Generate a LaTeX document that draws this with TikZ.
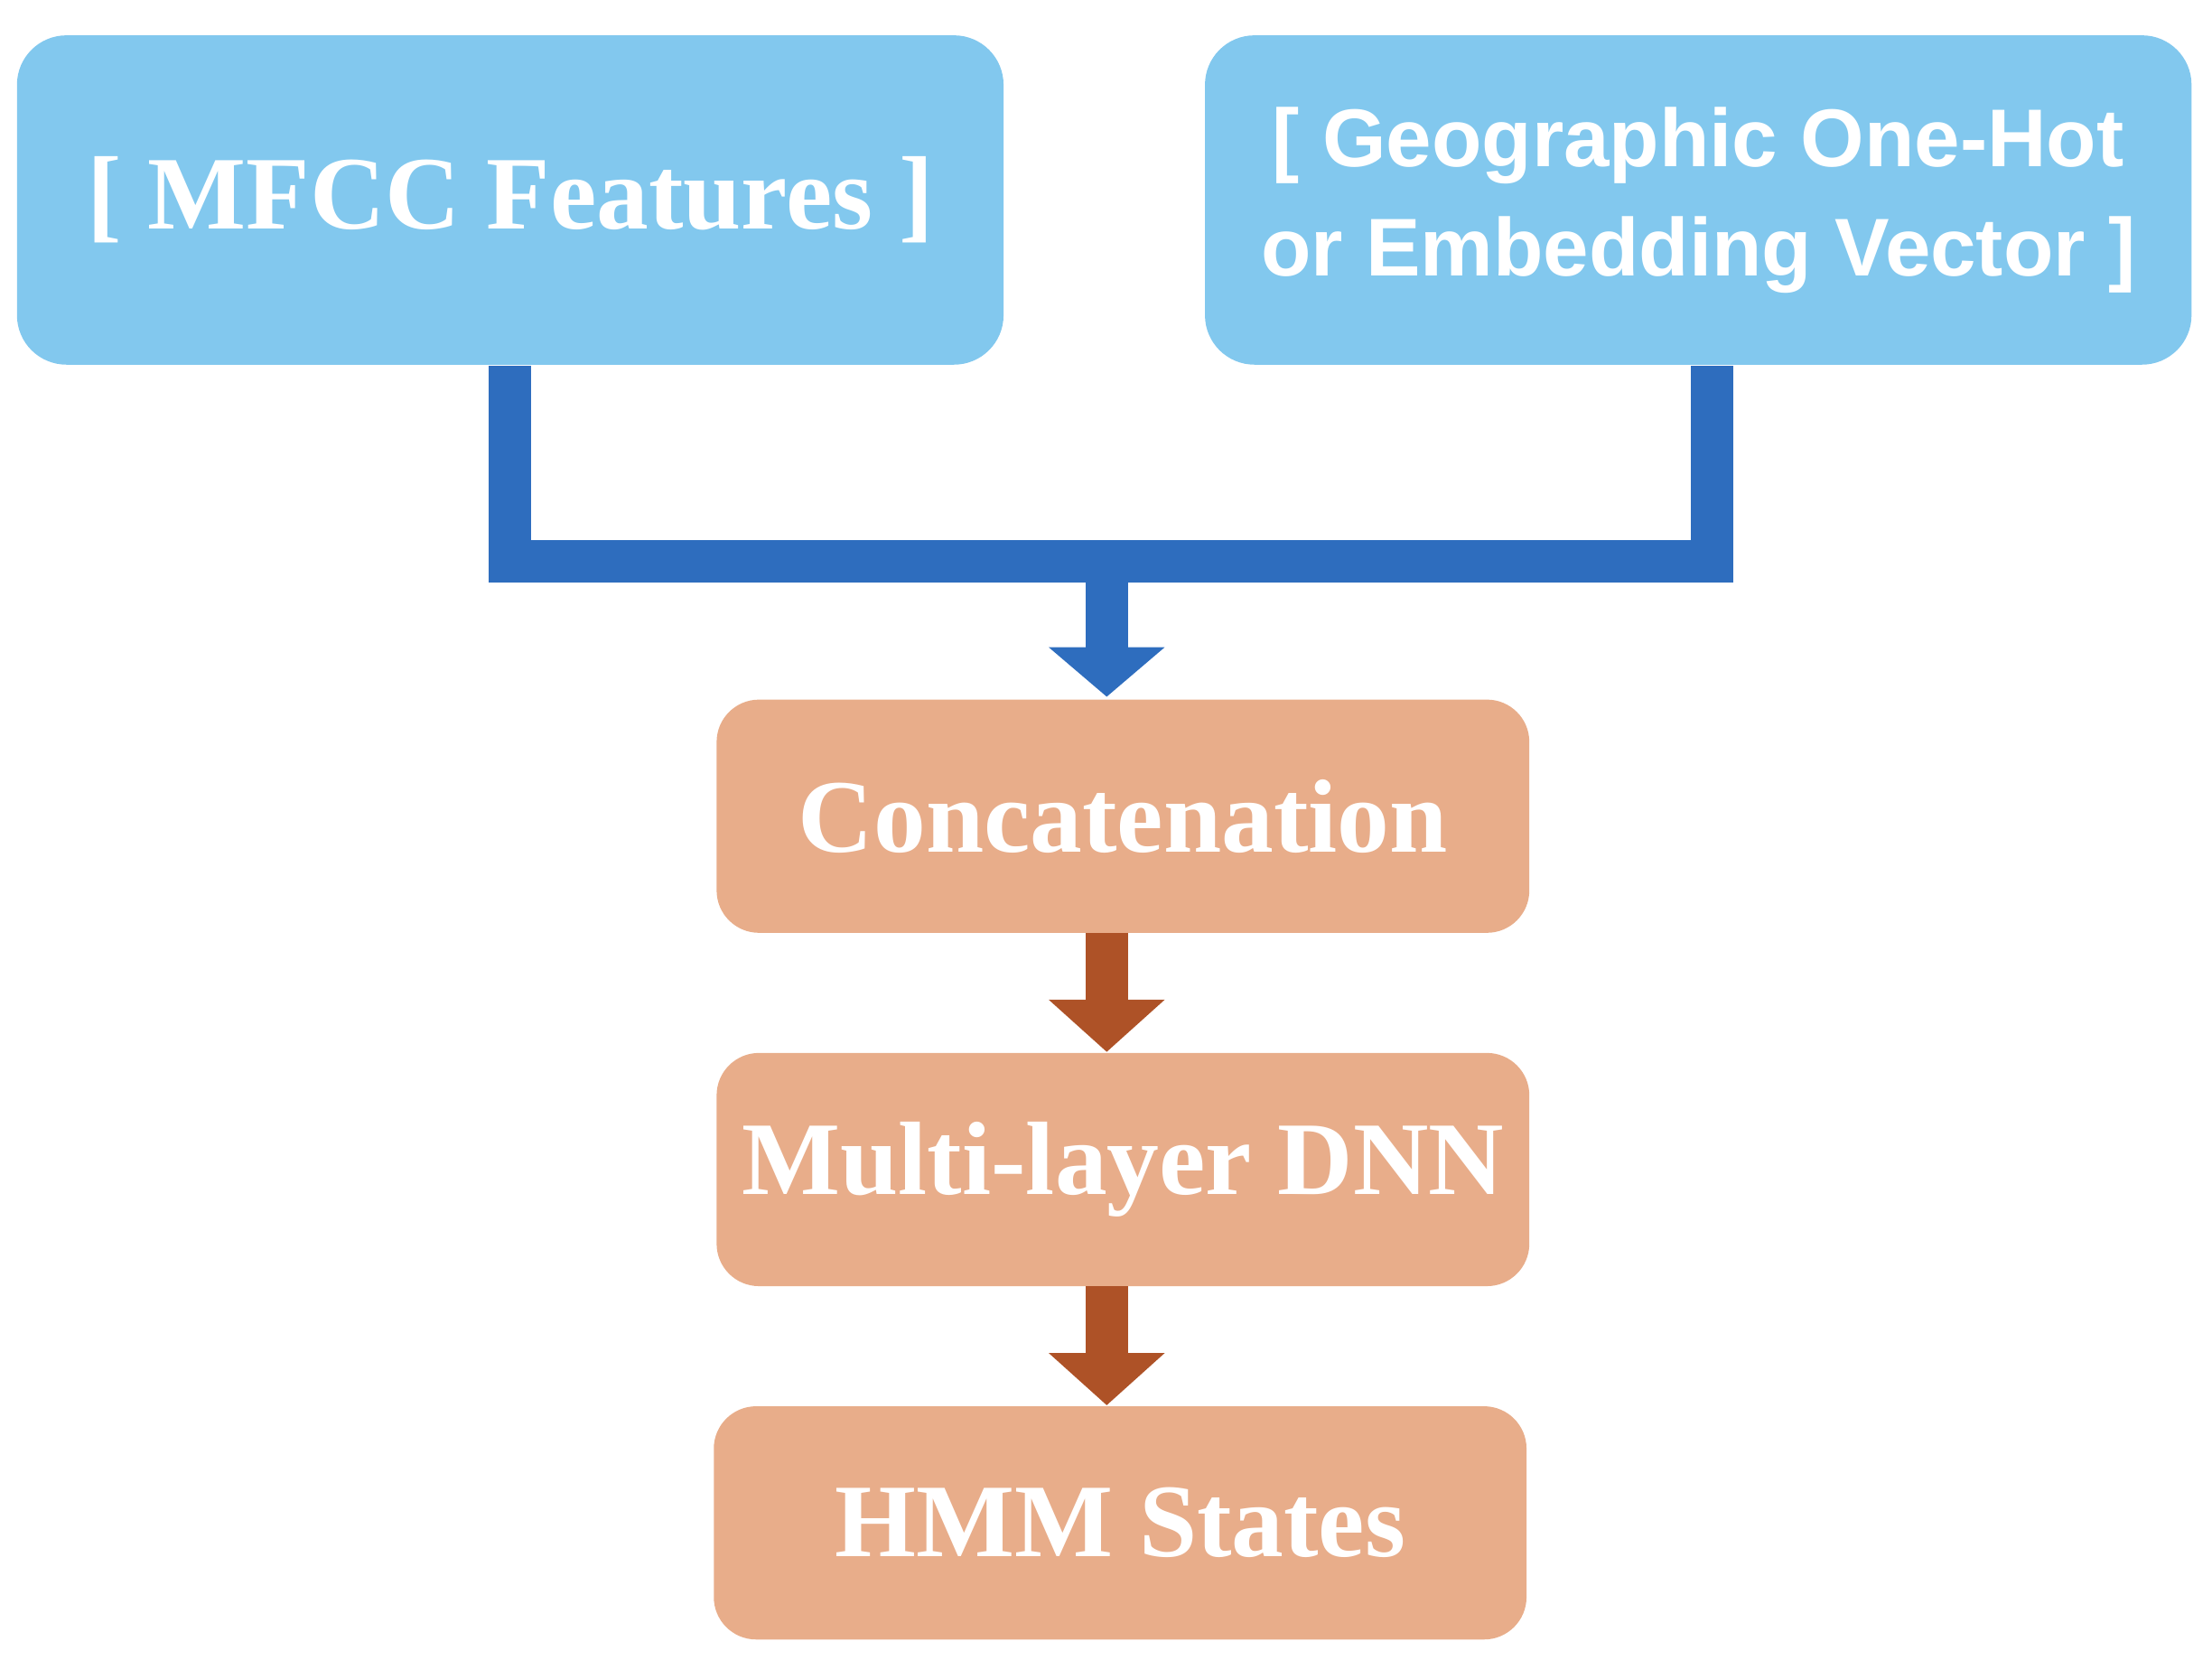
\documentclass[tikz,border=0pt]{standalone}
\usepackage{fontspec}
\setmainfont{Liberation Serif}
\newfontfamily\geofont{Liberation Sans}
\usetikzlibrary{arrows.meta}
\usetikzlibrary{positioning}
\definecolor{skyblue}{HTML}{82C8EE}
\definecolor{linkblue}{HTML}{2E6DBE}
\definecolor{peach}{HTML}{E8AD8A}
\definecolor{rust}{HTML}{AE5227}
\tikzset{
  inbox/.style={draw=none, fill=skyblue, rounded corners=0.35cm, minimum width=6.98cm,
    minimum height=2.33cm, text=white, align=center},
  stepbox/.style={draw=none, fill=peach, rounded corners=0.3cm, minimum width=5.75cm,
    minimum height=1.65cm, text=white, font=\bfseries\fontsize{21}{25}\selectfont},
  bluelink/.style={draw=linkblue, line width=0.3cm, miter limit=10},
  brownlink/.style={draw=rust, line width=0.3cm,
    -{Triangle[width=0.8cm, length=0.37cm]}}
}
\begin{document}
\begin{tikzpicture}
  \useasboundingbox (0,0) rectangle (15.65,-11.74);
  \node [inbox, font=\bfseries\fontsize{21}{25}\selectfont] (mfcc) at (3.61,-1.415) {[ MFCC Features ]};
  \node [inbox, font=\geofont\bfseries\fontsize{16.5}{22}\selectfont] (geo) at (12.015,-1.415)
    {[ Geographic One-Hot\\or Embedding Vector ]};
  \node [stepbox] (concat) at (7.945,-5.775) {Concatenation};
  \node [stepbox] (dnn) at (7.945,-8.275) {Multi-layer DNN};
  \node [stepbox] (hmm) at (7.925,-10.775) {HMM States};
  \coordinate (join) at (7.83,-3.97);
  % merge of both inputs
  \draw [bluelink] (mfcc.south) |- (join) -| ([xshift=0.1cm]geo.south);
  \draw [bluelink, -{Triangle[width=0.8cm, length=0.35cm]}] ([yshift=0.15cm]join) -- (7.83,-4.93);
  \draw [brownlink] (7.83,-6.6) -- (dnn.north -| 7.83,0);
  \draw [brownlink] (7.83,-9.1) -- (hmm.north -| 7.83,0);
\end{tikzpicture}
\end{document}
